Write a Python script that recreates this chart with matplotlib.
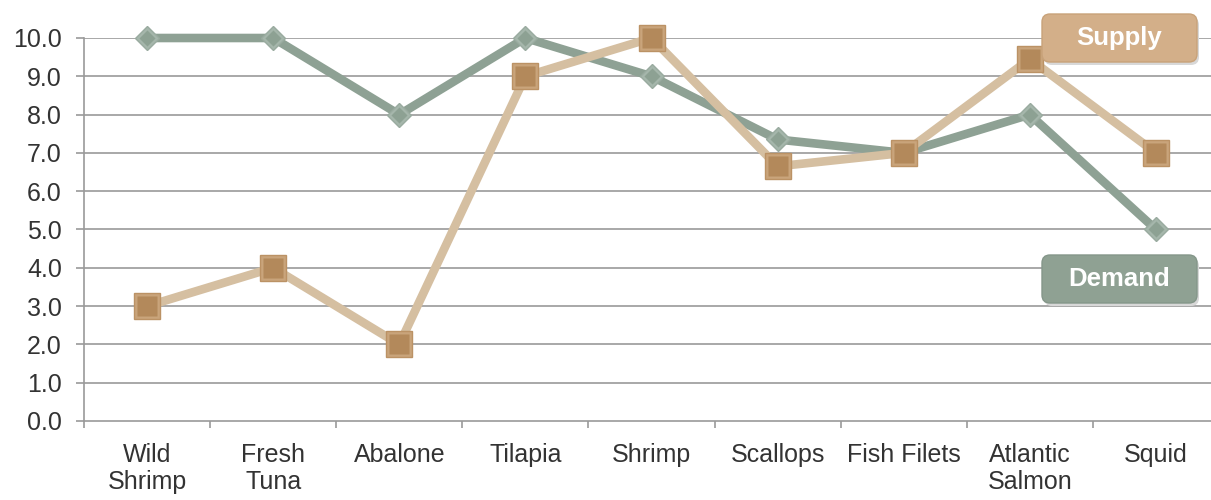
import matplotlib.pyplot as plt
from matplotlib.patches import FancyBboxPatch
import numpy as np

categories = ["Wild\nShrimp", "Fresh\nTuna", "Abalone", "Tilapia", "Shrimp",
              "Scallops", "Fish Filets", "Atlantic\nSalmon", "Squid"]
demand = [10.0, 10.0, 8.0, 10.0, 9.0, 7.35, 7.0, 8.0, 5.0]
supply = [3.0, 4.0, 2.0, 9.0, 10.0, 6.65, 7.0, 9.45, 7.0]
yticks = [0.0, 1.0, 2.0, 3.0, 4.0, 5.0, 6.0, 7.0, 8.0, 9.0, 10.0]

plt.rcParams['font.family'] = ['Liberation Sans', 'DejaVu Sans']

fig = plt.figure(figsize=(12.11, 5.0), dpi=100)
ax = fig.add_axes([84 / 1211, 1 - 421 / 500, 1135 / 1211, 383 / 500])

x = np.arange(len(categories))

# gridlines
for y in yticks[1:]:
    ax.axhline(y, color="#9a9a9a", lw=1.2, zorder=1)

# Demand line + diamonds (outer light, inner darker for a bit of shading)
ax.plot(x, demand, color="#8ea194", lw=6.2, zorder=3, solid_capstyle="round",
        solid_joinstyle="round", clip_on=False)
ax.plot(x, demand, ls="none", marker="D", ms=12.5, mfc="#a5b6ab", mec="#99ab9f",
        mew=1, zorder=4, clip_on=False)
ax.plot(x, demand, ls="none", marker="D", ms=8, mfc="#8da193", mec="none",
        zorder=4, clip_on=False)

# Supply line + squares
ax.plot(x, supply, color="#d5bfa1", lw=6.2, zorder=5, solid_capstyle="round",
        solid_joinstyle="round", clip_on=False)
ax.plot(x, supply, ls="none", marker="s", ms=19, mfc="#c9a47b", mec="#bb9265",
        mew=1, zorder=6, clip_on=False)
ax.plot(x, supply, ls="none", marker="s", ms=14, mfc="#b3895b", mec="none",
        zorder=6, clip_on=False)

ax.set_xlim(-0.5, len(categories) - 0.5)
ax.set_ylim(0, 10)

ax.set_yticks(yticks)
ax.set_yticklabels([f"{v:.1f}" for v in yticks])
ax.set_xticks(x)
ax.set_xticklabels(categories, linespacing=1.12)
ax.set_xticks(np.arange(len(categories) + 1) - 0.5, minor=True)

ax.tick_params(axis="y", length=6, width=1.2, color="#9a9a9a", pad=10,
               labelsize=18, labelcolor="#333333")
ax.tick_params(axis="x", which="major", length=0, pad=16,
               labelsize=18, labelcolor="#333333")
ax.tick_params(axis="x", which="minor", length=5, width=1.2, color="#9a9a9a")

for side in ["top", "right"]:
    ax.spines[side].set_visible(False)
for side in ["left", "bottom"]:
    ax.spines[side].set_color("#9a9a9a")
    ax.spines[side].set_linewidth(1.2)

# legend boxes (inch coordinates, 100 px per inch)
boxes = [("Supply", 4.38, "#d3af89", "#c8a279"),
         ("Demand", 1.97, "#8fa193", "#849689")]
for label, y0, fc, ec in boxes:
    shadow = FancyBboxPatch((10.44, y0 - 0.03), 1.55, 0.48,
                            boxstyle="round,pad=0,rounding_size=0.08",
                            transform=fig.dpi_scale_trans, fc="#d8d8d8",
                            ec="none", zorder=9)
    box = FancyBboxPatch((10.42, y0), 1.55, 0.48,
                         boxstyle="round,pad=0,rounding_size=0.08",
                         transform=fig.dpi_scale_trans, fc=fc, ec=ec, lw=1,
                         zorder=10)
    fig.add_artist(shadow)
    fig.add_artist(box)
    fig.text(11.195, y0 + 0.24, label, transform=fig.dpi_scale_trans,
             ha="center", va="center", fontsize=18.5, fontweight="bold",
             color="white", zorder=11)

plt.savefig("out.png", dpi=100)
plt.close()
